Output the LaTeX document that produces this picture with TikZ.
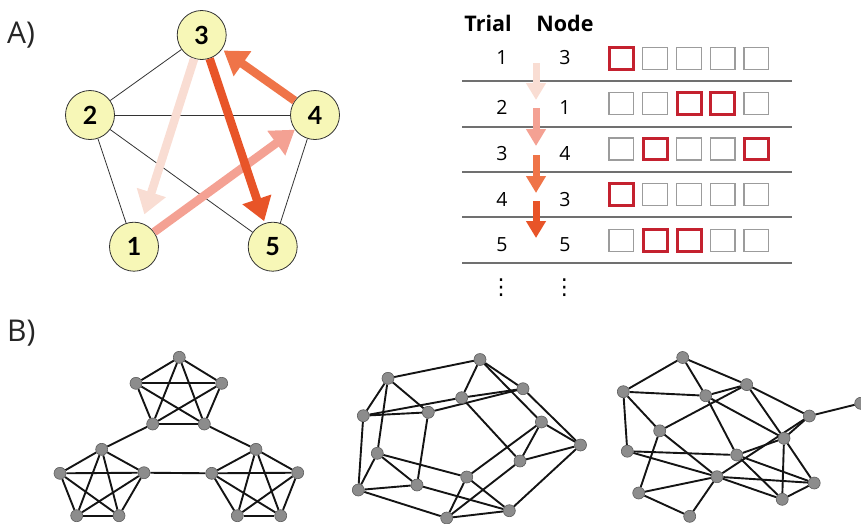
\documentclass[tikz,border=0pt]{standalone}
\usepackage{fontspec}
\setmainfont{Open Sans}
\newfontfamily\labelfont{Lato}
\newfontfamily\symbolfont{DejaVu Sans}
\usetikzlibrary{arrows.meta,backgrounds}

\definecolor{nodefill}{HTML}{F7F7B7}
\definecolor{stepA}{HTML}{F9DDD3}
\definecolor{stepB}{HTML}{F4A193}
\definecolor{stepC}{HTML}{EF7448}
\definecolor{stepD}{HTML}{E85428}
\definecolor{boxred}{HTML}{C4212F}
\definecolor{boxgray}{HTML}{9C9C9C}
\definecolor{rulegray}{HTML}{707070}
\definecolor{dotfill}{HTML}{8C8C8C}
\definecolor{dotline}{HTML}{5C5C5C}

\begin{document}
\begin{tikzpicture}[x=1pt,y=-1pt,
  panel/.style={inner sep=0pt, anchor=base west, text=black!85,
    font=\fontsize{30}{30}\selectfont},
  bignode/.style={circle, draw=black!80, line width=0.8pt, fill=nodefill,
    minimum size=49pt, inner sep=0pt,
    font=\labelfont\bfseries\fontsize{25}{25}\selectfont},
  thinedge/.style={draw=black!80, line width=0.8pt},
  walk/.style={line width=8.5pt, -{Triangle[width=29pt,length=23pt]}},
  tabarrow/.style={line width=7pt, -{Triangle[width=19pt,length=17pt]}},
  head/.style={inner sep=0pt, font=\bfseries\fontsize{21.5}{21.5}\selectfont},
  num/.style={inner sep=0pt, font=\fontsize{19.5}{19.5}\selectfont},
  more/.style={inner sep=0pt, font=\symbolfont\fontsize{22}{22}\selectfont},
  rowrule/.style={draw=rulegray, line width=1.3pt},
  cell/.style={draw=boxgray, line width=1.3pt, minimum width=24.5pt,
    minimum height=22pt, inner sep=0pt},
  hit/.style={draw=boxred, line width=3pt, minimum width=24pt,
    minimum height=21.5pt, inner sep=0pt},
  gnode/.style={circle, fill=dotfill, draw=dotline, line width=0.6pt,
    minimum size=12pt, inner sep=0pt},
  gedge/.style={draw=black!92, line width=1.9pt}]

\useasboundingbox (0,0) rectangle (861,523);

% panel labels
\node[panel] (lab-a) at (7,43) {A)};
\node[panel] (lab-b) at (7,341) {B)};

% ---------- A: five-node graph with the walk ----------
\node[bignode] (n3) at (201.7,35) {3};
\node[bignode] (n2) at (90,115) {2};
\node[bignode] (n4) at (315,115) {4};
\node[bignode] (n1) at (134,246.7) {1};
\node[bignode] (n5) at (272.7,246.7) {5};

\draw[thinedge] (n3) -- (n2);
\draw[thinedge] (n2) -- (n4);
\draw[thinedge] (n2) -- (n1);
\draw[thinedge] (n2) -- (n5);
\draw[thinedge] (n4) -- (n5);

\draw[walk, stepA, shorten >=9pt] (n3) -- (n1);
\draw[walk, stepB] (n1) -- (n4);
\draw[walk, stepC, shorten >=2pt] (n4) -- (n3);
\draw[walk, stepD, shorten >=2pt] (n3) -- (n5);

% ---------- A: trial table ----------
\node[head] (hd-trial) at (488,23) {Trial};
\node[head] (hd-node) at (565,23) {Node};

\foreach \k/\t/\v/\y in {1/1/3/57.2, 2/2/1/107.5, 3/3/4/153.3, 4/4/3/199.7, 5/5/5/245}{
  \node[num] (trial-\k) at (502,\y) {\t};
  \node[num] (visit-\k) at (565,\y) {\v};
}
\node[more] (trial-more) at (501,288) {⋮};
\node[more] (visit-more) at (564.3,288) {⋮};

\foreach \k/\y in {1/81,2/127,3/172,4/217,5/263}{
  \coordinate (rl-\k) at (462,\y);
  \coordinate (rr-\k) at (792,\y);
  \draw[rowrule] (rl-\k) -- (rr-\k);
}

\foreach \row/\y in {1/58.3,2/103.7,3/149,4/194.7,5/240.3}{
  \foreach \col/\x in {1/621.3,2/655,3/689,4/722.7,5/756.3}{
    \node[cell] (cell-\row-\col) at (\x,\y) {};
  }
}
\foreach \row/\col in {1/1,2/3,2/4,3/2,3/5,4/1,5/2,5/3}{
  \node[hit] (hit-\row-\col) at (cell-\row-\col) {};
}

\coordinate (ta1) at (536,63);  \coordinate (tb1) at (536,100);
\coordinate (ta2) at (536,108); \coordinate (tb2) at (536,146);
\coordinate (ta3) at (536,155); \coordinate (tb3) at (536,193);
\coordinate (ta4) at (536,201); \coordinate (tb4) at (536,238);
\draw[tabarrow, stepA] (ta1) -- (tb1);
\draw[tabarrow, stepB] (ta2) -- (tb2);
\draw[tabarrow, stepC] (ta3) -- (tb3);
\draw[tabarrow, stepD] (ta4) -- (tb4);

% ---------- B: three example networks ----------
% network 1: three linked five-cliques
\foreach \nm/\x/\y in {t0/179.3/357.3, t1/136/383.3, t2/221.7/383.3, t3/152.7/424, t4/204.3/424,
                      l0/101.7/449.3, l1/60/473.3, l2/144/472.7, l3/76.7/515.7, l4/119/515.7,
                      r0/256/449.3, r1/211.7/473.3, r2/297.7/472.7, r3/237.3/515.7, r4/280.7/515.7}{
  \node[gnode] (g1\nm) at (\x,\y) {};
}
\begin{scope}[on background layer]
\foreach \p in {t,l,r}{
  \foreach \i/\j in {0/1,0/2,0/3,0/4,1/2,1/3,1/4,2/3,2/4,3/4}{
    \draw[gedge] (g1\p\i) -- (g1\p\j);
  }
}
\draw[gedge] (g1t3) -- (g1l0);
\draw[gedge] (g1t4) -- (g1r0);
\draw[gedge] (g1l2) -- (g1r1);
\end{scope}

% network 2: a 4-regular graph
\foreach \nm/\x/\y in {a/480/359.5, b/388/378.3, c/523/388.7, d/461.7/397.7, e/363.3/415.7,
                      f/428.3/412.3, g/541.4/422, h/580.5/445, i/377.3/453.3, j/520/461,
                      k/466.7/477, l/417/485, m/358.3/490, n/509.3/510.7, o/446.7/518}{
  \node[gnode] (g2\nm) at (\x,\y) {};
}
\begin{scope}[on background layer]
\foreach \u/\v in {a/b,a/d,a/c,a/g,c/h,b/e,b/f,b/i,e/f,e/d,d/c,f/c,e/m,f/l,d/j,
                   g/h,g/j,g/k,j/h,i/m,i/l,i/k,m/l,m/o,l/n,k/o,k/n,o/n,o/j,n/h}{
  \draw[gedge] (g2\u) -- (g2\v);
}
\end{scope}

% network 3: an irregular graph
\foreach \nm/\x/\y in {1/682.7/357.5, 2/623.3/391.7, 3/746.7/384.6, 4/705.7/395.7, 5/809.3/416,
                      6/860.7/403.3, 7/659.7/430.8, 8/784/438.3, 9/627.3/451.2, 10/736.7/455,
                      11/717/476.7, 12/814.2/483, 13/638.7/493, 14/782.2/499.3, 15/689.7/516.3}{
  \node[gnode] (g3n\nm) at (\x,\y) {};
}
\begin{scope}[on background layer]
\foreach \u/\v in {1/2,1/4,1/3,2/4,2/7,2/9,4/3,4/8,4/10,3/7,3/8,3/5,5/6,5/8,5/11,
                   7/13,7/11,9/10,9/11,8/14,8/12,10/14,10/12,11/12,11/14,11/13,11/15,
                   13/15,14/12,10/8}{
  \draw[gedge] (g3n\u) -- (g3n\v);
}
\end{scope}

\end{tikzpicture}
\end{document}
